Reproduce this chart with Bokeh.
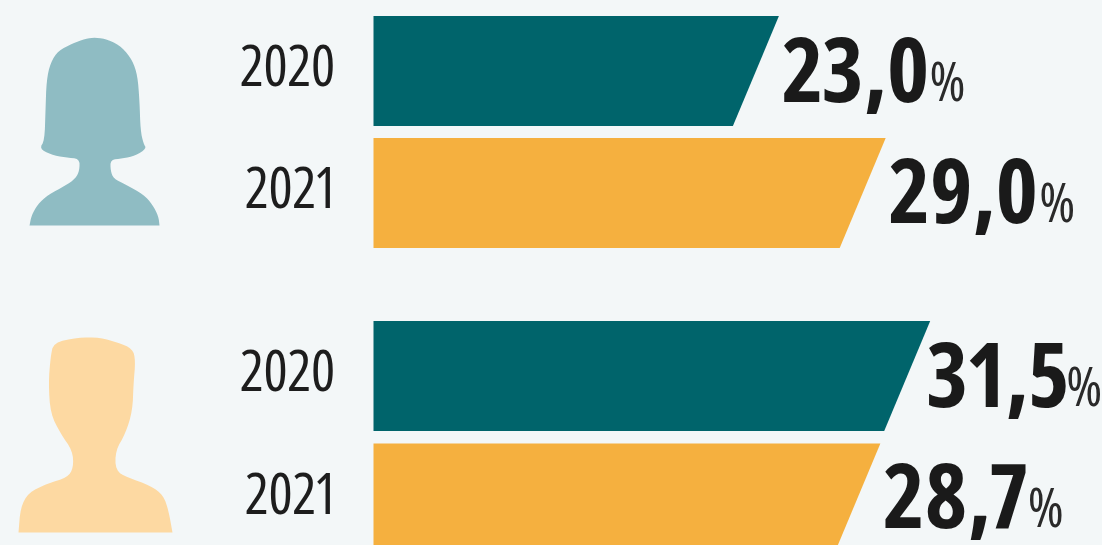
from bokeh.plotting import figure
from bokeh.embed import file_html
from bokeh.resources import INLINE
from bokeh.core.properties import value

years = ["2020", "2021", "2020", "2021"]
shares = [23.0, 29.0, 31.5, 28.7]
share_labels = ["23,0", "29,0", "31,5", "28,7"]
row_centers = [70.5, 192.5, 375.5, 498.0]
bar_colors = ["#00646b", "#f5b03f", "#00646b", "#f5b03f"]

W, H = 1102, 545
PX_PER_UNIT = 17.8
ZERO_PX = 369.0
BAR_H = 110.0
SLANT = 46 / PX_PER_UNIT
BASE = (373 - ZERO_PX) / PX_PER_UNIT
LABEL_GAP = [3.5, 3.5, -3, 3.5]
PCT_GAP = [147, 150, 139, 144]
BASELINE_OFF = [-1.5, -2.5, -1.5, -3]
PCT_OFF = [10, 10, 10, 10]
YEAR_LEFT = [240, 245, 240, 245]

woman = [(95,37),(108,39),(122,47),(132,60),(137,75),(139,100),(140,130),(143,143),(146,148),(135,155),(122,158),(110,159),(110,170),(113,178),(125,184),(143,194),(152,204),(158,216),(159,225),(159,225),(159,225),(29,225),(29,225),(29,225),(31,215),(37,204),(48,194),(65,185),(75,178),(79,170),(79,158),(65,157),(50,154),(39,148),(44,140),(45,110),(46,80),(50,62),(58,50),(72,43),(85,38)]
man = [(53,342),(77,337),(100,337),(117,342),(132,348),(135,360),(133,383),(132,410),(125,433),(115,450),(115,470),(127,477),(150,485),(163,495),(168,510),(172,532),(172,532),(172,532),(18,532),(18,532),(18,532),(20,507),(28,492),(47,483),(67,477),(73,467),(72,450),(60,433),(50,413),(48,383),(50,357)]

def smooth(pts, n=2):
    for _ in range(n):
        out = []
        for i, a in enumerate(pts):
            b = pts[(i + 1) % len(pts)]
            out.append((0.75 * a[0] + 0.25 * b[0], 0.75 * a[1] + 0.25 * b[1]))
            out.append((0.25 * a[0] + 0.75 * b[0], 0.25 * a[1] + 0.75 * b[1]))
        pts = out
    return pts

x_min = -ZERO_PX / PX_PER_UNIT
x_max = (W - ZERO_PX) / PX_PER_UNIT

p = figure(width=W, height=H, x_range=(x_min, x_max), y_range=(H, 0),
           toolbar_location=None, output_backend="svg",
           background_fill_color="#f3f7f8", border_fill_color="#f3f7f8",
           min_border=0, outline_line_color=None)
p.axis.visible = False
p.grid.visible = False

def to_x(px):
    return (px - ZERO_PX) / PX_PER_UNIT

sw, sm = smooth(woman), smooth(man)
p.patch([to_x(a) for a, _ in sw], [b for _, b in sw], fill_color="#8fbcc3", line_color=None)
p.patch([to_x(a) for a, _ in sm], [b for _, b in sm], fill_color="#fdd9a2", line_color=None)

xs = [[BASE, v, v - SLANT, BASE] for v in shares]
ys = [[c - BAR_H / 2, c - BAR_H / 2, c + BAR_H / 2, c + BAR_H / 2] for c in row_centers]
p.patches(xs, ys, fill_color=bar_colors, line_color=None)

p.text([to_x(a) for a in YEAR_LEFT], [c - 5.5 for c in row_centers], text=years, text_font=value("Open Sans"),
       text_font_size="57px", text_align="left", text_baseline="middle", text_color="#1d1d1d")

lab_x = [v + g / PX_PER_UNIT for v, g in zip(shares, LABEL_GAP)]
lab_y = [c + o for c, o in zip(row_centers, BASELINE_OFF)]
p.text(lab_x, lab_y, text=share_labels, text_font=value("Open Sans"), text_font_style="bold",
       text_font_size="90px", text_align="left", text_baseline="alphabetic", text_color="#1a1a1a")
p.text([x + g / PX_PER_UNIT for x, g in zip(lab_x, PCT_GAP)], [y + o for y, o in zip(lab_y, PCT_OFF)], text=["%"] * 4,
       text_font=value("Open Sans"), text_font_size="55px",
       text_align="left", text_baseline="alphabetic", text_color="#2a2a2a")

html = file_html(p, INLINE)
html = html.replace("<head>", "<head><style>html,body{margin:0!important;padding:0;background:#f3f7f8;overflow:hidden;font-stretch:75%;font-variant-numeric:proportional-nums}</style>", 1)
open("out.html", "w").write(html)
